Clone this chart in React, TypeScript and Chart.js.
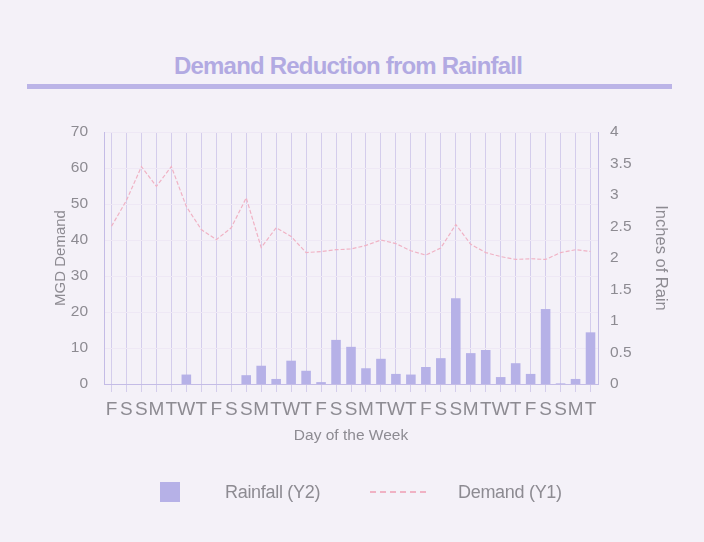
import React, { useEffect, useRef } from "react";
import { Chart, registerables } from "chart.js";

Chart.register(...registerables);

const days = ["F","S","S","M","T","W","T","F","S","S","M","T","W","T","F","S","S","M","T","W","T","F","S","S","M","T","W","T","F","S","S","M","T"];
const rainfall = [0,0,0,0,0,0.15,0,0,0,0.14,0.29,0.08,0.37,0.21,0.03,0.70,0.59,0.25,0.40,0.16,0.15,0.27,0.41,1.36,0.49,0.54,0.11,0.33,0.16,1.19,0.01,0.08,0.82];
const demand = [43.8,51,60.4,54.9,60.4,49.3,42.9,40.1,43.4,51.7,37.9,43.4,41,36.5,36.8,37.3,37.5,38.5,40,39,37,35.8,37.8,44.3,38.8,36.5,35.4,34.6,34.8,34.6,36.5,37.3,36.8];
const demandTicks = { min: 0, max: 70, step: 10 };
const rainTicks = { min: 0, max: 4, step: 0.5 };

const FONT = "'Liberation Sans', Arial, sans-serif";
const GRAY = "#8d8b92";
const LAV = "#b6b1e7";
const PINK = "#f0b2c4";
const BG = "#f4f1f8";

export default function App() {
  const ref = useRef<HTMLCanvasElement | null>(null);
  useEffect(() => {
    document.body.style.margin = "0";
    const ctx = ref.current!.getContext("2d")!;
    const chart = new Chart(ctx, {
      type: "bar",
      data: {
        labels: days,
        datasets: [
          {
            type: "line",
            label: "Demand (Y1)",
            data: demand,
            yAxisID: "y",
            borderColor: PINK,
            borderWidth: 1.2,
            borderDash: [4, 2],
            pointRadius: 0,
            tension: 0,
            order: 0,
          } as any,
          {
            type: "bar",
            label: "Rainfall (Y2)",
            data: rainfall,
            yAxisID: "y1",
            backgroundColor: LAV,
            barPercentage: 0.64,
            categoryPercentage: 1,
            order: 1,
          },
        ],
      },
      options: {
        responsive: false,
        animation: false,
        layout: { padding: { top: 132, bottom: 97, left: 0, right: 0 } },
        plugins: { legend: { display: false }, tooltip: { enabled: false }, title: { display: false } },
        scales: {
          x: {
            type: "category",
            offset: true,
            grid: { offset: false, color: "#d4cdec", tickLength: 8, drawTicks: true, lineWidth: 1 },
            border: { color: "#c4bce6" },
            ticks: { autoSkip: false, maxRotation: 0, minRotation: 0, color: GRAY, font: { family: FONT, size: 19 }, padding: 6 },
            title: { display: true, text: "Day of the Week", color: GRAY, font: { family: FONT, size: 15.5 }, padding: { top: 0, bottom: 0 } },
            afterFit: (s: any) => { s.height = 61; },
          },
          y: {
            position: "left",
            min: demandTicks.min,
            max: demandTicks.max,
            ticks: { stepSize: demandTicks.step, color: GRAY, font: { family: FONT, size: 15.5 }, padding: 16 },
            grid: { color: "#eee8f5", drawTicks: false },
            border: { color: "#c4bce6" },
            title: { display: true, text: "MGD Demand", color: GRAY, font: { family: FONT, size: 15 }, padding: { top: 52, bottom: 0 } },
            afterFit: (s: any) => { s.width = 104; },
          },
          y1: {
            position: "right",
            min: rainTicks.min,
            max: rainTicks.max,
            ticks: { stepSize: rainTicks.step, color: GRAY, font: { family: FONT, size: 15.5 }, padding: 12, callback: (v: any) => String(v) },
            grid: { display: false, drawOnChartArea: false, drawTicks: false },
            border: { display: true, color: "#c4bce6" },
            title: { display: true, text: "Inches of Rain", color: GRAY, font: { family: FONT, size: 16.5 }, padding: { top: 34, bottom: 0 } },
            afterFit: (s: any) => { s.width = 106; },
          },
        },
      },
    });
    return () => chart.destroy();
  }, []);

  return (
    <div style={{ position: "fixed", left: 0, top: 0, width: 704, height: 542, background: BG, fontFamily: FONT, overflow: "hidden" }}>
      <div style={{ position: "absolute", left: 0, top: 51, width: 696, textAlign: "center", color: "#b2aae2", fontWeight: "bold", fontSize: 24, letterSpacing: "-0.8px", lineHeight: "30px" }}>
        Demand Reduction from Rainfall
      </div>
      <div style={{ position: "absolute", left: 27, top: 84, width: 645, height: 5, background: "#bbb4e7" }} />
      <canvas ref={ref} width={704} height={542} style={{ position: "absolute", left: 0, top: 0, width: 704, height: 542 }} />
      <div style={{ position: "absolute", left: 160, top: 482, width: 20, height: 20, background: LAV }} />
      <div style={{ position: "absolute", left: 225, top: 481, lineHeight: "22px", fontSize: 18, letterSpacing: "-0.3px", color: GRAY }}>Rainfall (Y2)</div>
      <div style={{ position: "absolute", left: 370, top: 491, width: 60, height: 1.5, background: `repeating-linear-gradient(to right, ${PINK} 0 6px, transparent 6px 10px)` }} />
      <div style={{ position: "absolute", left: 458, top: 481, lineHeight: "22px", fontSize: 18, letterSpacing: "-0.3px", color: GRAY }}>Demand (Y1)</div>
    </div>
  );
}
